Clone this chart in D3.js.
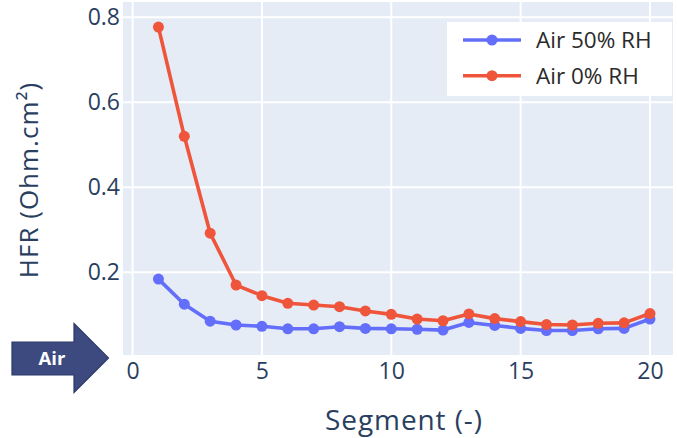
<!DOCTYPE html>
<html>
<head>
<meta charset="utf-8">
<script src="https://cdn.jsdelivr.net/npm/d3@7"></script>
<style>
  html, body { margin: 0; padding: 0; background: #fff; }
  svg { display: block; }
  text { font-family: "Open Sans", "Noto Sans", sans-serif; }
</style>
</head>
<body>
<svg id="chart" width="677" height="438"></svg>
<script>
const segments = [1,2,3,4,5,6,7,8,9,10,11,12,13,14,15,16,17,18,19,20];
const hfrAir50 = [0.184,0.125,0.085,0.076,0.073,0.067,0.067,0.072,0.068,0.067,0.066,0.064,0.082,0.075,0.068,0.063,0.063,0.067,0.068,0.090];
const hfrAir0  = [0.777,0.520,0.292,0.170,0.145,0.127,0.123,0.119,0.109,0.101,0.090,0.086,0.102,0.091,0.084,0.077,0.076,0.080,0.081,0.103];
const seriesNames = ["Air 50% RH", "Air 0% RH"];
const xTicks = [0, 5, 10, 15, 20];
const yTicks = [0.2, 0.4, 0.6, 0.8];
const xTitle = "Segment (-)";
const yTitle = "HFR (Ohm.cm²)";
const arrowLabel = "Air";

const colors = ["#636efa", "#ef553b"];
const svg = d3.select("#chart");
const L = 123, R = 673, T = 2, B = 355;

const x = d3.scaleLinear().domain([-0.37, 20.89]).range([L, R]);
const y = d3.scaleLinear().domain([0.0054, 0.836]).range([B, T]);

// plot background
svg.append("rect").attr("x", L).attr("y", T).attr("width", R - L).attr("height", B - T).attr("fill", "#e5ecf6");

// gridlines
svg.append("g").selectAll("line").data(xTicks).join("line")
  .attr("x1", d => x(d)).attr("x2", d => x(d)).attr("y1", T).attr("y2", B)
  .attr("stroke", "#fff").attr("stroke-width", 2);
svg.append("g").selectAll("line").data(yTicks).join("line")
  .attr("x1", L).attr("x2", R).attr("y1", d => y(d)).attr("y2", d => y(d))
  .attr("stroke", "#fff").attr("stroke-width", 2);

// axes (labels only)
const xAxis = svg.append("g").attr("transform", `translate(0,${B})`)
  .call(d3.axisBottom(x).tickValues(xTicks).tickSize(0).tickPadding(8).tickFormat(d3.format("d")));
const yAxis = svg.append("g").attr("transform", `translate(${L},0)`)
  .call(d3.axisLeft(y).tickValues(yTicks).tickSize(0).tickPadding(3).tickFormat(d3.format(".1f")));
[xAxis, yAxis].forEach(a => {
  a.select(".domain").remove();
  a.selectAll("text").attr("fill", "#2a3f5f").style("font-size", "23px").style("font-family", "'Open Sans', sans-serif");
});

// axis titles
svg.append("text").attr("x", 404).attr("y", 430).attr("text-anchor", "middle")
  .attr("fill", "#2a3f5f").style("font-size", "28px").style("letter-spacing", "0.9px").text(xTitle);
svg.append("text").attr("transform", `translate(38,180) rotate(-90)`).attr("text-anchor", "middle")
  .attr("fill", "#2a3f5f").style("font-size", "26px").style("letter-spacing", "1px").text(yTitle);

// series
const seriesData = [hfrAir50, hfrAir0];
const line = d3.line().x((d, i) => x(segments[i])).y(d => y(d));
seriesData.forEach((vals, k) => {
  const g = svg.append("g");
  g.append("path").attr("d", line(vals)).attr("fill", "none").attr("stroke", colors[k]).attr("stroke-width", 3.6).attr("stroke-linejoin", "round");
  g.selectAll("circle").data(vals).join("circle")
    .attr("cx", (d, i) => x(segments[i])).attr("cy", d => y(d)).attr("r", 5.5).attr("fill", colors[k]);
});

// legend
const lg = svg.append("g");
lg.append("rect").attr("x", 447).attr("y", 22).attr("width", 225).attr("height", 74).attr("fill", "#fff");
seriesNames.forEach((name, k) => {
  const yy = 40 + k * 35.7;
  lg.append("line").attr("x1", 463).attr("x2", 521).attr("y1", yy).attr("y2", yy).attr("stroke", colors[k]).attr("stroke-width", 3.6);
  lg.append("circle").attr("cx", 492).attr("cy", yy).attr("r", 5.5).attr("fill", colors[k]);
  lg.append("text").attr("x", 536).attr("y", yy).attr("dy", "0.36em").attr("fill", "#2a2a2a").style("font-size", "22.5px").text(name);
});

// arrow
const ag = svg.append("g");
const arrowPts = [[12,342],[74,342],[74,323.5],[108.5,358],[74,392.5],[74,375],[12,375]];
ag.append("path").attr("d", "M" + arrowPts.map(p => p.join(",")).join("L") + "Z")
  .attr("fill", "#3c4a80").attr("stroke", "#2c3866").attr("stroke-width", 1.2);
ag.append("text").attr("x", 52).attr("y", 358).attr("dy", "0.36em").attr("text-anchor", "middle")
  .attr("fill", "#fff").style("font-size", "18.5px").style("font-weight", "bold").text(arrowLabel);
</script>
</body>
</html>
